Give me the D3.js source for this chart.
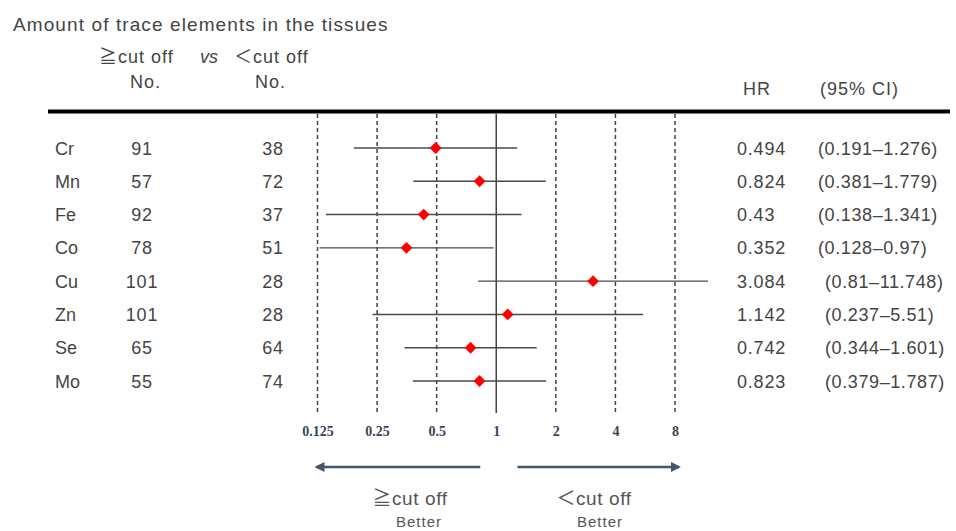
<!DOCTYPE html>
<html>
<head>
<meta charset="utf-8">
<script src="https://cdn.jsdelivr.net/npm/d3@7"></script>
<style>
  body { margin: 0; background: #fff; }
  text { font-family: "Liberation Sans", Arial, "Noto Sans CJK JP", sans-serif; fill: #444; }
</style>
</head>
<body>
<div id="main"></div>
<script>
  var elements = ["Cr", "Mn", "Fe", "Co", "Cu", "Zn", "Se", "Mo"];
  var nHigh = [91, 57, 92, 78, 101, 101, 65, 55];
  var nLow = [38, 72, 37, 51, 28, 28, 64, 74];
  var hr = [0.494, 0.824, 0.43, 0.352, 3.084, 1.142, 0.742, 0.823];
  var ciLow = [0.191, 0.381, 0.138, 0.128, 0.81, 0.237, 0.344, 0.379];
  var ciHigh = [1.276, 1.779, 1.341, 0.97, 11.748, 5.51, 1.601, 1.787];
  var ciText = ["(0.191\u20131.276)", "(0.381\u20131.779)", "(0.138\u20131.341)", "(0.128\u20130.97)",
                "(0.81\u201311.748)", "(0.237\u20135.51)", "(0.344\u20131.601)", "(0.379\u20131.787)"];
  var tickVals = [0.125, 0.25, 0.5, 1, 2, 4, 8];

  var rows = elements.map(function(e, i) {
    return {el: e, a: nHigh[i], b: nLow[i], hr: hr[i], lo: ciLow[i], hi: ciHigh[i], ci: ciText[i]};
  });

  var svg = d3.select("#main").append("svg")
      .attr("width", 956)
      .attr("height", 531);

  var x = d3.scaleLog().base(2).domain([0.125, 8]).range([317.5, 675]);
  var y = d3.scalePoint().domain(elements).range([148, 381]);

  // header
  svg.append("text").attr("x", 13).attr("y", 31).style("font-size", "19px")
      .style("letter-spacing", "1.1px")
      .text("Amount of trace elements in the tissues");
  var head = [
    {t: "\u2267cut off", x: 99, y: 63},
    {t: "\uff1ccut off", x: 234, y: 63},
    {t: "No.", x: 130, y: 88},
    {t: "No.", x: 255, y: 88},
    {t: "HR", x: 743, y: 95},
    {t: "(95% CI)", x: 820, y: 95}
  ];
  svg.selectAll(".head").data(head).enter().append("text")
      .attr("x", function(d) { return d.x; })
      .attr("y", function(d) { return d.y; })
      .style("font-size", "18px")
      .style("letter-spacing", "1px")
      .text(function(d) { return d.t; });
  svg.append("text").attr("x", 200).attr("y", 63).style("font-size", "18px")
      .style("font-style", "italic").text("vs");

  svg.append("line")
      .attr("x1", 48).attr("x2", 950)
      .attr("y1", 111.5).attr("y2", 111.5)
      .attr("stroke", "#000").attr("stroke-width", 4);

  // reference lines
  svg.selectAll(".ref").data(tickVals).enter().append("line")
      .attr("x1", function(d) { return x(d); })
      .attr("x2", function(d) { return x(d); })
      .attr("y1", 114).attr("y2", 413)
      .attr("stroke", "#444")
      .attr("stroke-width", 1.5)
      .attr("stroke-dasharray", function(d) { return d === 1 ? null : "4,3"; });

  // tick labels
  var axis = svg.append("g").attr("transform", "translate(0,423)")
      .call(d3.axisBottom(x).tickValues(tickVals).tickSize(0).tickFormat(function(d) { return String(d); }));
  axis.select(".domain").remove();
  axis.selectAll("text")
      .style("font-family", "'Liberation Serif', serif")
      .style("font-size", "14px")
      .style("font-weight", "bold")
      .style("fill", "#3b4455");

  // rows
  var g = svg.selectAll(".row").data(rows).enter().append("g");

  g.append("line")
      .attr("x1", function(d) { return x(d.lo); })
      .attr("x2", function(d) { return x(d.hi); })
      .attr("y1", function(d) { return y(d.el); })
      .attr("y2", function(d) { return y(d.el); })
      .attr("stroke", "#4a4a4a")
      .attr("stroke-width", 1.4);

  g.append("path")
      .attr("d", d3.symbol().type(d3.symbolSquare).size(70))
      .attr("transform", function(d) { return "translate(" + x(d.hr) + "," + y(d.el) + ") rotate(45)"; })
      .attr("fill", "#ff0000");

  var ty = function(d) { return y(d.el) + 6.5; };
  g.append("text").attr("x", 55).attr("y", ty).style("font-size", "18px").text(function(d) { return d.el; });
  g.append("text").attr("x", 142).attr("y", ty).attr("text-anchor", "middle").style("font-size", "18px")
      .style("letter-spacing", "0.8px").text(function(d) { return d.a; });
  g.append("text").attr("x", 273).attr("y", ty).attr("text-anchor", "middle").style("font-size", "18px")
      .style("letter-spacing", "0.8px").text(function(d) { return d.b; });
  g.append("text").attr("x", 737).attr("y", ty).style("font-size", "18px")
      .style("letter-spacing", "0.8px").text(function(d) { return d.hr; });
  g.append("text").attr("x", function(d) { return d.el === "Cu" || d.el === "Zn" || d.el === "Se" || d.el === "Mo" ? 825 : 818; })
      .attr("y", ty).style("font-size", "18px").style("letter-spacing", "0.6px")
      .text(function(d) { return d.ci; });

  // arrows
  var defs = svg.append("defs");
  defs.append("marker").attr("id", "ah")
      .attr("viewBox", "0 0 10 10").attr("refX", 8).attr("refY", 5)
      .attr("markerWidth", 4).attr("markerHeight", 4)
      .attr("orient", "auto")
      .append("path").attr("d", "M0,0L10,5L0,10z").attr("fill", "#44546a");

  svg.append("line")
      .attr("x1", x(0.83)).attr("x2", x(0.125) - 1)
      .attr("y1", 467).attr("y2", 467)
      .attr("stroke", "#44546a").attr("stroke-width", 2.5)
      .attr("marker-end", "url(#ah)");
  svg.append("line")
      .attr("x1", x(1.28)).attr("x2", x(8) + 4)
      .attr("y1", 467).attr("y2", 467)
      .attr("stroke", "#44546a").attr("stroke-width", 2.5)
      .attr("marker-end", "url(#ah)");

  svg.append("text").attr("x", 410).attr("y", 505).attr("text-anchor", "middle")
      .style("font-size", "19px").style("letter-spacing", "0.6px").style("fill", "#555").text("\u2267cut off");
  svg.append("text").attr("x", 419).attr("y", 527).attr("text-anchor", "middle")
      .style("font-size", "15px").style("letter-spacing", "1px").style("fill", "#555").text("Better");
  svg.append("text").attr("x", 594).attr("y", 505).attr("text-anchor", "middle")
      .style("font-size", "19px").style("letter-spacing", "0.6px").style("fill", "#555").text("\uff1ccut off");
  svg.append("text").attr("x", 600).attr("y", 527).attr("text-anchor", "middle")
      .style("font-size", "15px").style("letter-spacing", "1px").style("fill", "#555").text("Better");
</script>
</body>
</html>
